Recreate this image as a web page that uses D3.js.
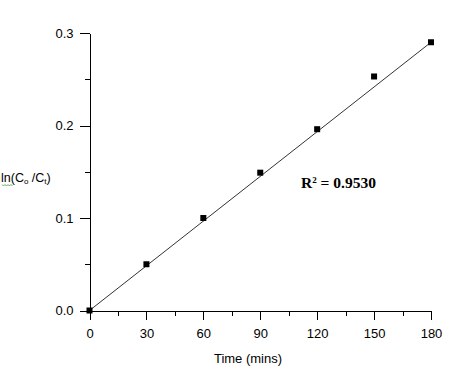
<!DOCTYPE html>
<html>
<head>
<meta charset="utf-8">
<script src="https://cdn.jsdelivr.net/npm/d3@7"></script>
<style>
  body { margin: 0; background: #fff; }
  svg { display: block; }
  text { font-family: "Liberation Sans", Arial, sans-serif; fill: #000; }
  .axis path, .axis line { stroke: #000; shape-rendering: crispEdges; }
  .axis text { font-size: 13px; }
  .r2 { font-family: "Liberation Serif", "Times New Roman", serif; font-weight: bold; font-size: 15.5px; }
</style>
</head>
<body>
<svg width="472" height="373"></svg>
<script>
// data
var times = [0, 30, 60, 90, 120, 150, 180];
var lnRatio = [0, 0.050, 0.100, 0.149, 0.196, 0.253, 0.290];
var fitLine = [[0, 0], [180, 0.29]];
var xTicks = [0, 30, 60, 90, 120, 150, 180];
var yTicks = [0.0, 0.1, 0.2, 0.3];
var r2Text = '0.9530';

var svg = d3.select('svg');

var x = d3.scaleLinear().domain([0, 180]).range([89.5, 431]);
var y = d3.scaleLinear().domain([0, 0.3]).range([310.5, 33]);

// minor ticks
svg.append('g')
    .attr('class', 'axis')
    .attr('transform', 'translate(0,' + y(0) + ')')
    .call(d3.axisBottom(x).tickValues(d3.range(15, 180, 30)).tickSize(5).tickFormat(''))
    .select('.domain').remove();

svg.append('g')
    .attr('class', 'axis')
    .attr('transform', 'translate(' + x(0) + ',0)')
    .call(d3.axisLeft(y).tickValues([0.05, 0.15, 0.25]).tickSize(5).tickFormat(''))
    .select('.domain').remove();

// major axes
var xAxis = svg.append('g')
    .attr('class', 'axis')
    .attr('transform', 'translate(0,' + y(0) + ')')
    .call(d3.axisBottom(x).tickValues(xTicks).tickSize(9).tickSizeOuter(0).tickPadding(11));
xAxis.selectAll('text').attr('dy', '0.6em');

var yAxis = svg.append('g')
    .attr('class', 'axis')
    .attr('transform', 'translate(' + x(0) + ',0)')
    .call(d3.axisLeft(y).tickValues(yTicks).tickSize(10).tickSizeOuter(0).tickPadding(6)
        .tickFormat(d3.format('.1f')));

// fitted line
svg.append('path')
    .datum(fitLine)
    .attr('fill', 'none')
    .attr('stroke', '#333')
    .attr('stroke-width', 1)
    .attr('d', d3.line()
        .x(function(d) { return x(d[0]); })
        .y(function(d) { return y(d[1]); }));

// points
svg.selectAll('.pt')
    .data(times)
    .enter()
    .append('rect')
    .attr('class', 'pt')
    .attr('x', function(d) { return x(d) - 3; })
    .attr('y', function(d, i) { return y(lnRatio[i]) - 3; })
    .attr('width', 6)
    .attr('height', 6)
    .attr('fill', '#000');

// axis titles
svg.append('text')
    .attr('x', 248)
    .attr('y', 363)
    .attr('text-anchor', 'middle')
    .style('font-size', '13px')
    .text('Time (mins)');

var yLabel = svg.append('text')
    .attr('x', 1)
    .attr('y', 182)
    .style('font-size', '12.5px');
yLabel.append('tspan').text('ln(C');
yLabel.append('tspan').attr('dy', 2).style('font-size', '8px').text('o');
yLabel.append('tspan').attr('dy', -2).text(' /C');
yLabel.append('tspan').attr('dy', 2).style('font-size', '8px').text('t');
yLabel.append('tspan').attr('dy', -2).text(')');

// green spell-check squiggle under "ln"
svg.append('path')
    .attr('d', 'M2,184.5 l1.5,1.5 l1.5,-1.5 l1.5,1.5 l1.5,-1.5 l1.5,1.5 l1.5,-1.5 l1.5,1.5')
    .attr('fill', 'none')
    .attr('stroke', '#3a9a3a')
    .attr('stroke-width', 0.8);

var r2 = svg.append('text')
    .attr('class', 'r2')
    .attr('x', 301)
    .attr('y', 188);
r2.append('tspan').text('R');
r2.append('tspan').attr('dy', -5).style('font-size', '9px').text('2');
r2.append('tspan').attr('dy', 5).text(' = ' + r2Text);
</script>
</body>
</html>
